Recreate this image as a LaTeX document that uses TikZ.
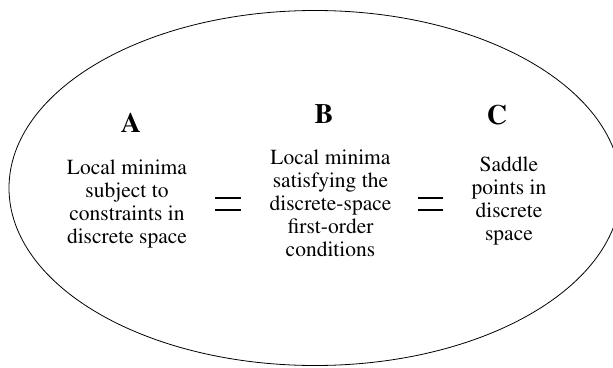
\documentclass[tikz,border=0pt]{standalone}
\usepackage[T1]{fontenc}
\renewcommand{\rmdefault}{ptm}
\begin{document}
\begin{tikzpicture}[x=1pt,y=-1pt,
  blocktext/.style={align=center,inner sep=0pt,anchor=north,font=\fontsize{21.5}{23}\selectfont},
  letter/.style={inner sep=0pt,anchor=base,font=\fontsize{28}{30}\selectfont\bfseries},
  eqbar/.style={line width=2pt}]
\useasboundingbox (0,0) rectangle (613,367);
\draw[line width=0.8pt] (315,188) ellipse [x radius=306, y radius=177.5];
\node[letter] (la) at (131,132) {A};
\node[letter] (lb) at (324,123) {B};
\node[letter] (lc) at (497,124) {C};
\node[blocktext] (ta) at (127,159.3) {Local minima\\subject to\\constraints in\\discrete space};
\node[blocktext] (tb) at (330.5,149.3) {Local minima\\satisfying the\\discrete-space\\first-order\\conditions};
\node[blocktext] (tc) at (509,156.3) {Saddle\\points in\\discrete\\space};
\coordinate (e1a) at (215,198); \coordinate (e1b) at (241,198);
\coordinate (e1c) at (215,210); \coordinate (e1d) at (241,210);
\coordinate (e2a) at (418,198); \coordinate (e2b) at (443,198);
\coordinate (e2c) at (418,210); \coordinate (e2d) at (443,210);
\draw[eqbar] (e1a) -- (e1b);
\draw[eqbar] (e1c) -- (e1d);
\draw[eqbar] (e2a) -- (e2b);
\draw[eqbar] (e2c) -- (e2d);
\end{tikzpicture}
\end{document}
